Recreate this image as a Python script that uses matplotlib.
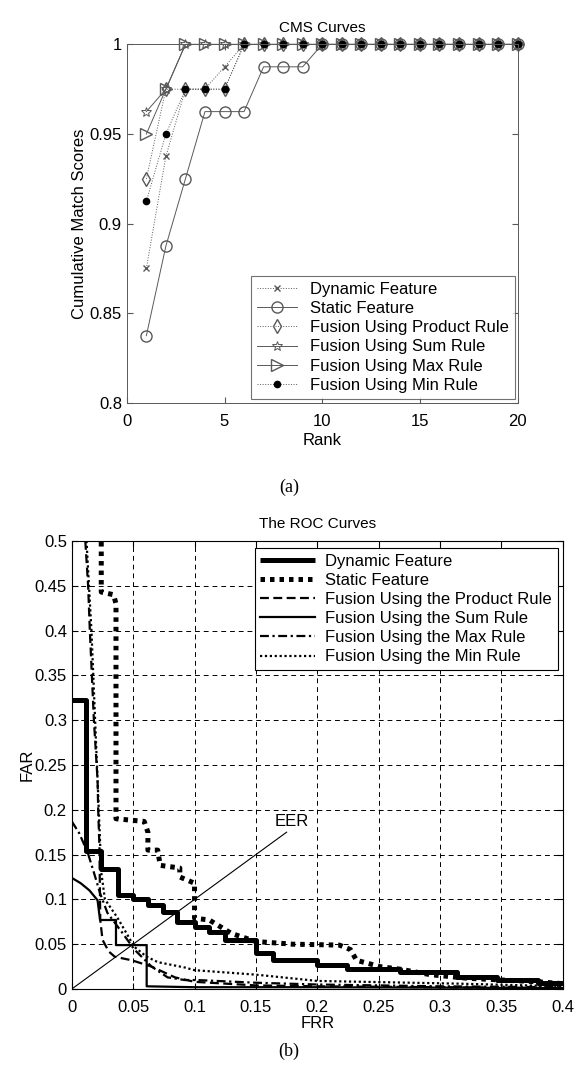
import numpy as np
import matplotlib
matplotlib.use('Agg')
import matplotlib.pyplot as plt

plt.rcParams['font.family'] = ['Liberation Sans', 'DejaVu Sans']

# ---------------- CMS data (a) ----------------
rank = np.arange(1, 21)
cms_dynamic = [0.875, 0.9375, 0.975, 0.975, 0.9875] + [1.0] * 15
cms_static = [0.8375, 0.8875, 0.925, 0.9625, 0.9625, 0.9625, 0.9875, 0.9875, 0.9875] + [1.0] * 11
cms_product = [0.925, 0.975, 0.975, 0.975, 0.975] + [1.0] * 15
cms_sum = [0.9625, 0.975] + [1.0] * 18
cms_max = [0.95, 0.975] + [1.0] * 18
cms_min = [0.9125, 0.95, 0.975, 0.975, 0.975] + [1.0] * 15
cms_labels = ['Dynamic Feature', 'Static Feature', 'Fusion Using Product Rule',
              'Fusion Using Sum Rule', 'Fusion Using Max Rule', 'Fusion Using Min Rule']

# ---------------- ROC data (b) ----------------
dyn_frr = [0, 0.0117, 0.024, 0.0375, 0.05, 0.062, 0.074, 0.086, 0.1, 0.112, 0.125, 0.15,
           0.164, 0.2, 0.224, 0.267, 0.314, 0.346, 0.38, 0.4]
dyn_far = [0.323, 0.154, 0.134, 0.105, 0.10, 0.094, 0.086, 0.075, 0.069, 0.064, 0.055, 0.04,
           0.032, 0.027, 0.022, 0.019, 0.013, 0.010, 0.007, 0.005]
sta_frr = [0.024, 0.024, 0.034, 0.036, 0.036, 0.059, 0.062, 0.062, 0.07, 0.072, 0.088, 0.088,
           0.1, 0.1, 0.112, 0.13, 0.15, 0.18, 0.218, 0.227, 0.232, 0.251, 0.268, 0.292, 0.322,
           0.38, 0.4]
sta_far = [0.52, 0.443, 0.44, 0.43, 0.19, 0.187, 0.175, 0.155, 0.155, 0.138, 0.135, 0.125,
           0.118, 0.079, 0.077, 0.062, 0.053, 0.05, 0.049, 0.044, 0.032, 0.025, 0.022, 0.016,
           0.012, 0.008, 0.006]
pro_frr = [0.011, 0.0133, 0.0147, 0.018, 0.021, 0.0215, 0.0225, 0.023, 0.0232, 0.025, 0.03,
           0.035, 0.049, 0.065, 0.084, 0.1, 0.15, 0.2, 0.3, 0.4]
pro_far = [0.5, 0.45, 0.4, 0.3, 0.233, 0.2, 0.159, 0.1, 0.077, 0.055, 0.042, 0.036, 0.032,
           0.025, 0.013, 0.008, 0.004, 0.003, 0.002, 0.001]
sum_frr = [0, 0.0073, 0.0144, 0.021, 0.023, 0.036, 0.036, 0.061, 0.061, 0.1, 0.2, 0.4]
sum_far = [0.124, 0.118, 0.11, 0.099, 0.077, 0.077, 0.049, 0.049, 0.003, 0.002, 0.002, 0.001]
max_frr = [0, 0.006, 0.013, 0.018, 0.023, 0.029, 0.041, 0.051, 0.065, 0.078, 0.092, 0.102,
           0.15, 0.2, 0.3, 0.4]
max_far = [0.187, 0.174, 0.152, 0.13, 0.107, 0.085, 0.063, 0.044, 0.025, 0.013, 0.010, 0.01,
           0.007, 0.005, 0.003, 0.002]
min_frr = [0.012, 0.016, 0.019, 0.022, 0.024, 0.027, 0.037, 0.051, 0.061, 0.07, 0.092, 0.1,
           0.15, 0.2, 0.314, 0.4]
min_far = [0.5, 0.4, 0.3, 0.2, 0.13, 0.1, 0.08, 0.047, 0.036, 0.03, 0.024, 0.021, 0.016,
           0.009, 0.006, 0.003]
roc_labels = ['Dynamic Feature', 'Static Feature', 'Fusion Using the Product Rule',
              'Fusion Using the Sum Rule', 'Fusion Using the Max Rule', 'Fusion Using the Min Rule']
eer_line = [0, 0.175]

fig = plt.figure(figsize=(5.79, 10.83), dpi=100)

# ----------------------------- (a) CMS curves -----------------------------
ax1 = fig.add_axes([0.219, 0.628, 0.675, 0.331])
lc = '0.35'
ax1.plot(rank, cms_dynamic, ':', color=lc, lw=0.7, marker='x', ms=4, mec=lc,
         label=cms_labels[0], clip_on=False)
ax1.plot(rank, cms_static, '-', color=lc, lw=0.7, marker='o', ms=8, mfc='none', mec=lc,
         label=cms_labels[1], clip_on=False)
ax1.plot(rank, cms_product, ':', color=lc, lw=0.7, marker='d', ms=7, mfc='none', mec=lc,
         label=cms_labels[2], clip_on=False)
ax1.plot(rank, cms_sum, '-', color=lc, lw=0.7, marker='*', ms=7, mfc='none', mec=lc,
         mew=0.7, label=cms_labels[3], clip_on=False)
ax1.plot(rank, cms_max, '-', color=lc, lw=0.7, marker='>', ms=8, mfc='none', mec=lc,
         label=cms_labels[4], clip_on=False)
ax1.plot(rank, cms_min, ':', color=lc, lw=0.7, marker='o', ms=4.5, mfc='k', mec='k',
         label=cms_labels[5], clip_on=False)
ax1.set_xlim(0, 20)
ax1.set_ylim(0.8, 1.0)
ax1.set_xticks([0, 5, 10, 15, 20])
ax1.set_yticks([0.8, 0.85, 0.9, 0.95, 1.0])
ax1.set_yticklabels(['0.8', '0.85', '0.9', '0.95', '1'])
ax1.tick_params(direction='in', top=True, right=True, labelsize=12, length=4, color=lc)
ax1.tick_params(axis='x', pad=8)
for s in ax1.spines.values():
    s.set_color(lc)
    s.set_linewidth(0.7)
ax1.set_title('CMS Curves', fontsize=11, pad=9)
ax1.set_xlabel('Rank', fontsize=12, labelpad=3)
ax1.set_ylabel('Cumulative Match Scores', fontsize=12, labelpad=2)
leg1 = ax1.legend(loc='lower right', bbox_to_anchor=(0.993, 0.012), borderaxespad=0,
                  fontsize=12, fancybox=False, edgecolor='0.3', handlelength=2.4,
                  labelspacing=0.25, borderpad=0.35, handletextpad=0.8)
leg1.get_frame().set_linewidth(0.8)
fig.text(0.499, 0.55, '(a)', ha='center', va='center', fontsize=13,
         family=['Liberation Serif', 'DejaVu Serif'])

# ----------------------------- (b) ROC curves -----------------------------
ax2 = fig.add_axes([0.124, 0.0868, 0.848, 0.4137])
ax2.plot(dyn_frr, dyn_far, '-', color='k', lw=3.6, drawstyle='steps-post',
         solid_capstyle='butt', label=roc_labels[0])
ax2.plot(sta_frr, sta_far, color='k', lw=3.6, linestyle=(0, (0.9, 1.0)),
         dash_capstyle='butt', label=roc_labels[1])
ax2.plot(pro_frr, pro_far, color='k', lw=1.6, linestyle=(0, (4, 2)), label=roc_labels[2])
ax2.plot(sum_frr, sum_far, '-', color='k', lw=1.6, label=roc_labels[3])
ax2.plot(max_frr, max_far, color='k', lw=1.6, linestyle=(0, (4, 1.6, 1, 1.6)),
         label=roc_labels[4])
ax2.plot(min_frr, min_far, color='k', lw=1.6, linestyle=(0, (1, 1.2)), label=roc_labels[5])
ax2.plot(eer_line, eer_line, '-', color='k', lw=0.8)
ax2.text(0.165, 0.178, 'EER', fontsize=12, ha='left', va='bottom')
ax2.set_xlim(0, 0.4)
ax2.set_ylim(0, 0.5)
ax2.set_xticks(np.arange(0, 0.401, 0.05))
ax2.set_yticks(np.arange(0, 0.501, 0.05))
ax2.set_xticklabels(['0', '0.05', '0.1', '0.15', '0.2', '0.25', '0.3', '0.35', '0.4'])
ax2.set_yticklabels(['0', '0.05', '0.1', '0.15', '0.2', '0.25', '0.3', '0.35', '0.4',
                     '0.45', '0.5'])
ax2.grid(True, color='k', linestyle=(0, (5, 4)), linewidth=0.7)
ax2.tick_params(direction='in', top=True, right=True, labelsize=12, length=4)
ax2.tick_params(axis='x', pad=8)
for s in ax2.spines.values():
    s.set_linewidth(0.8)
ax2.set_title('The ROC Curves', fontsize=11, pad=9)
ax2.set_xlabel('FRR', fontsize=12, labelpad=1)
ax2.set_ylabel('FAR', fontsize=12, labelpad=0)
leg2 = ax2.legend(loc='upper right', bbox_to_anchor=(0.99, 0.985), borderaxespad=0,
                  fontsize=12, fancybox=False, edgecolor='k', framealpha=1,
                  handlelength=3.3, labelspacing=0.25, borderpad=0.35, handletextpad=0.6)
leg2.get_frame().set_linewidth(0.8)
fig.text(0.499, 0.029, '(b)', ha='center', va='center', fontsize=13,
         family=['Liberation Serif', 'DejaVu Serif'])

fig.savefig('out.png', dpi=100)
